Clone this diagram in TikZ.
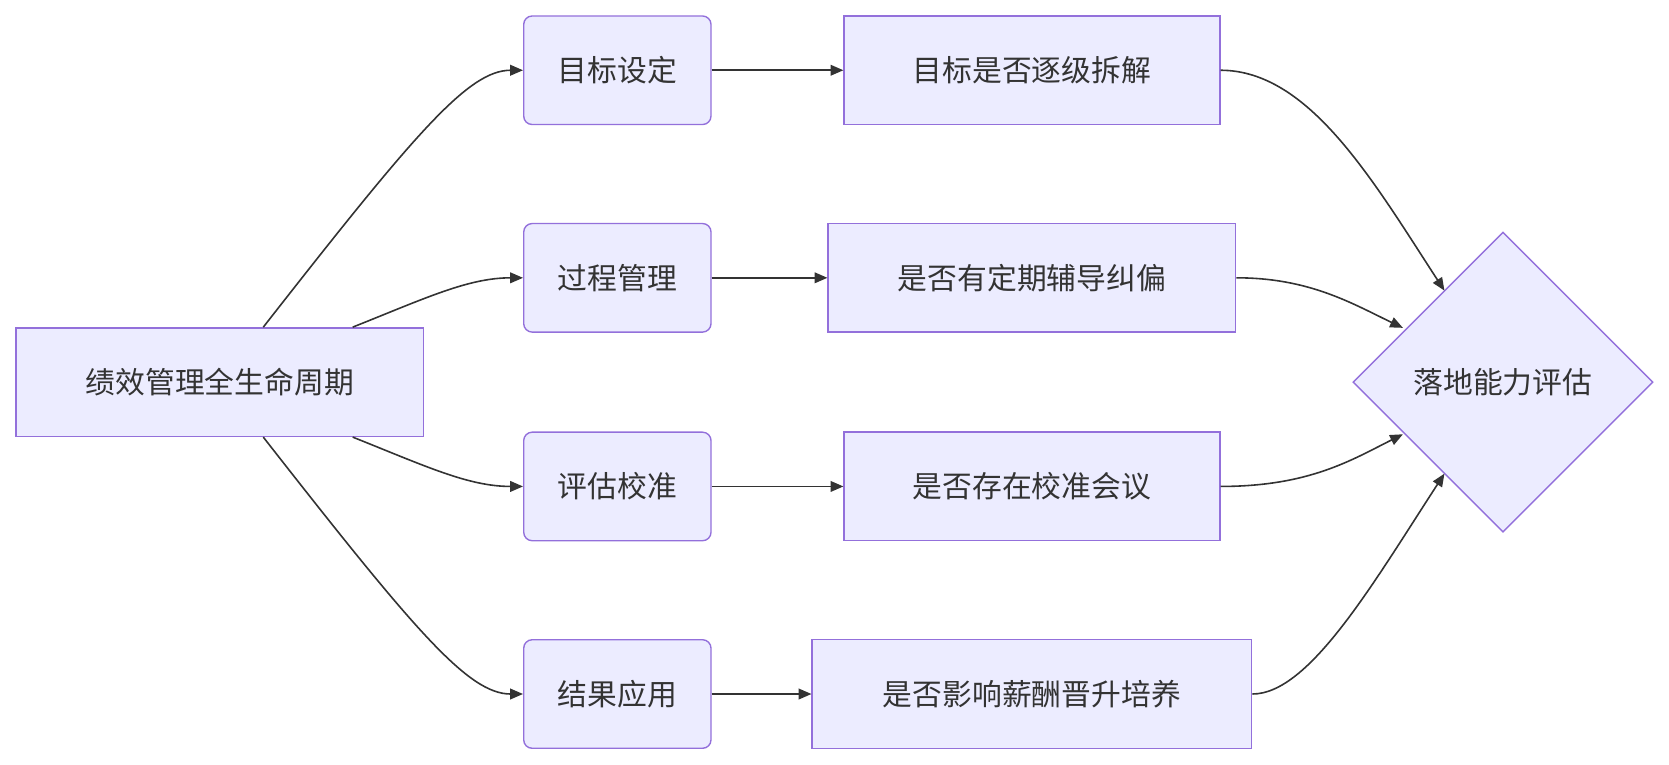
\documentclass[tikz,border=0pt]{standalone}
\usepackage{fontspec}
\newfontfamily\cjk{Noto Sans CJK SC}
\usetikzlibrary{shapes.geometric,arrows.meta,calc}
\definecolor{fillc}{HTML}{ECECFF}
\definecolor{linec}{HTML}{9370DB}
\definecolor{arr}{HTML}{333333}
\begin{document}
\begin{tikzpicture}[x=1pt,y=-1pt,
  box/.style={draw=linec,fill=fillc,line width=1.3pt,inner sep=0pt,font=\cjk\fontsize{28}{34}\selectfont,text=arr},
  rbox/.style={box,rounded corners=8pt,minimum width=176pt,minimum height=102pt},
  conn/.style={draw=arr,line width=1.5pt,-{Triangle[length=12pt,width=10pt]}}]
\useasboundingbox (0,0) rectangle (1568,718);
\node[box,minimum width=383pt,minimum height=102pt] (A) at (206.5,359) {绩效管理全生命周期};
\node[rbox] (b1) at (580,66) {目标设定};
\node[rbox] (b2) at (580,261) {过程管理};
\node[rbox] (b3) at (580,457) {评估校准};
\node[rbox] (b4) at (580,652) {结果应用};
\node[box,minimum width=353pt,minimum height=102pt] (c1) at (969.5,66) {目标是否逐级拆解};
\node[box,minimum width=383pt,minimum height=102pt] (c2) at (969.5,261) {是否有定期辅导纠偏};
\node[box,minimum width=353pt,minimum height=102pt] (c3) at (969.5,457) {是否存在校准会议};
\node[box,minimum width=413pt,minimum height=102pt] (c4) at (969.5,652) {是否影响薪酬晋升培养};
\node[box,diamond,minimum width=282pt,minimum height=282pt,aspect=1] (D) at (1412,359) {落地能力评估};
\foreach \i in {1,...,4}{\draw[conn] (b\i.east) -- (c\i.west);}
\coordinate (a1) at ($(A.north west)+(233,0)$);
\coordinate (a2) at ($(A.north west)+(317,0)$);
\coordinate (a3) at ($(A.south west)+(317,0)$);
\coordinate (a4) at ($(A.south west)+(233,0)$);
\draw[conn] (a1) .. controls (390,125) and (440,66) .. (b1.west);
\draw[conn] (a2) .. controls (400,280) and (440,261) .. (b2.west);
\draw[conn] (a3) .. controls (400,438) and (440,457) .. (b3.west);
\draw[conn] (a4) .. controls (390,593) and (440,652) .. (b4.west);
\coordinate (d1) at (1357,273);
\coordinate (d2) at (1318,308);
\coordinate (d3) at (1318,408);
\coordinate (d4) at (1357,445);
\draw[conn] (c1.east) .. controls (1230,66) and (1290,170) .. (d1);
\draw[conn] (c2.east) .. controls (1230,261) and (1270,285) .. (d2);
\draw[conn] (c3.east) .. controls (1230,457) and (1270,432) .. (d3);
\draw[conn] (c4.east) .. controls (1230,652) and (1290,548) .. (d4);
\end{tikzpicture}
\end{document}
